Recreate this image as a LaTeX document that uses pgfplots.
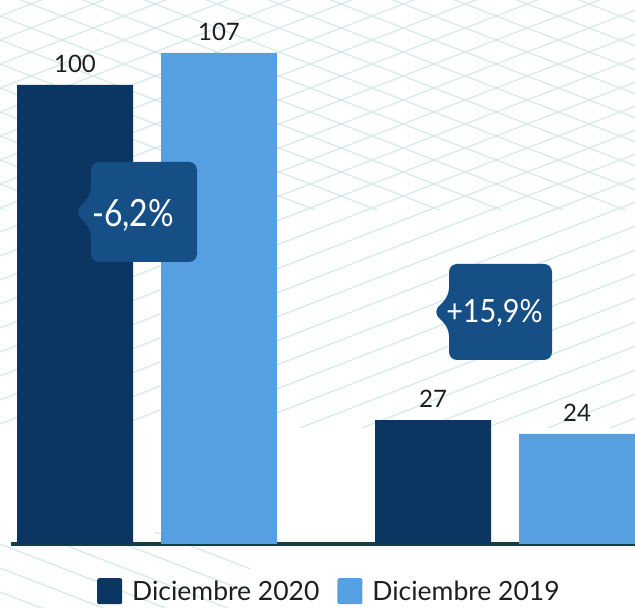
\documentclass[border=0pt]{standalone}
\usepackage{pgfplots}
\pgfplotsset{compat=1.18}
\usepackage{fontspec}
\usepackage{graphicx}
\setmainfont{Lato}

\definecolor{dic2020}{HTML}{0A3661}
\definecolor{dic2019}{HTML}{569FE0}
\definecolor{callout}{HTML}{154F86}
\definecolor{baseline}{HTML}{153D46}
\definecolor{lattice}{HTML}{D6EBE7}

\begin{document}
\begin{tikzpicture}
\path[use as bounding box] (0pt,0pt) rectangle (635pt,608pt);

% faint lattice in the background
\begin{scope}[x=1pt, y=1pt, lattice, line width=1.3pt]
  \begin{scope}
    \clip (0,398) rectangle (635,608);
    \foreach \c in {-248,-224,...,620} \draw (0,\c) -- (635,{\c+245.7});
    \foreach \c in {-8,16,...,860} \draw (0,\c) -- (635,{\c-245.7});
  \end{scope}
  \begin{scope}
    \clip (0,180) rectangle (635,398);
    \foreach \c in {-248,-224,...,620} \draw (0,\c) -- (635,{\c+245.7});
  \end{scope}
  \begin{scope}
    \clip (0,0) rectangle (250,75);
    \foreach \c in {-8,16,...,300} \draw (0,\c) -- (635,{\c-245.7});
  \end{scope}
\end{scope}

\begin{axis}[
    at={(11pt,64pt)}, anchor=south west,
    scale only axis,
    width=624pt, height=544pt,
    xmin=-0.3799, xmax=1.3631,
    ymin=0, ymax=118.5,
    ybar=28pt, bar width=116pt,
    axis y line=none,
    axis x line*=bottom,
    x axis line style={-, line width=4.5pt, color=baseline},
    xtick=\empty, ytick=\empty,
    /pgf/number format/assume math mode=true,
    nodes near coords,
    every node near coord/.append style={
        font=\fontsize{24}{24}\selectfont, text=black!88,
        anchor=south, inner sep=0pt, yshift=12pt},
    legend columns=2,
    legend style={
        at={(axis description cs:0.1378,-0.1110)}, anchor=south west,
        draw=none, fill=none, inner sep=0pt,
        nodes={inner sep=0pt},
        font=\fontsize{26.5}{26.5}\selectfont, text=black!88,
        /tikz/every odd column/.append style={column sep=10pt},
        /tikz/every even column/.append style={column sep=18pt}},
    legend image code/.code={\fill[#1, rounded corners=2pt] (0pt,-13pt) rectangle (25pt,13pt);},
]
\addplot[fill=dic2020, draw=none] coordinates {(0,100) (1,27)};
\addplot[fill=dic2019, draw=none] coordinates {(0,107) (1,24)};
\legend{Diciembre 2020, Diciembre 2019}
\end{axis}

% callouts
\begin{scope}[x=1pt, y=1pt]
\fill[callout, rounded corners=8pt]
  (91,446) -- (197,446) -- (197,346) -- (91,346)
  -- (91,379) -- (75,396) -- (91,413) -- cycle;
\node[text=white, font=\fontsize{37.5}{37.5}\selectfont, inner sep=0pt, anchor=base]
  at (133,381) {\scalebox{0.85}[1]{-6,2\%}};
\fill[callout, rounded corners=8pt]
  (449,344) -- (552,344) -- (552,248) -- (449,248)
  -- (449,280) -- (433,296) -- (449,312) -- cycle;
\node[text=white, font=\fontsize{32}{32}\selectfont, inner sep=0pt, anchor=base]
  at (494.5,285) {\scalebox{0.9}[1]{+15,9\%}};
\end{scope}
\end{tikzpicture}
\end{document}
